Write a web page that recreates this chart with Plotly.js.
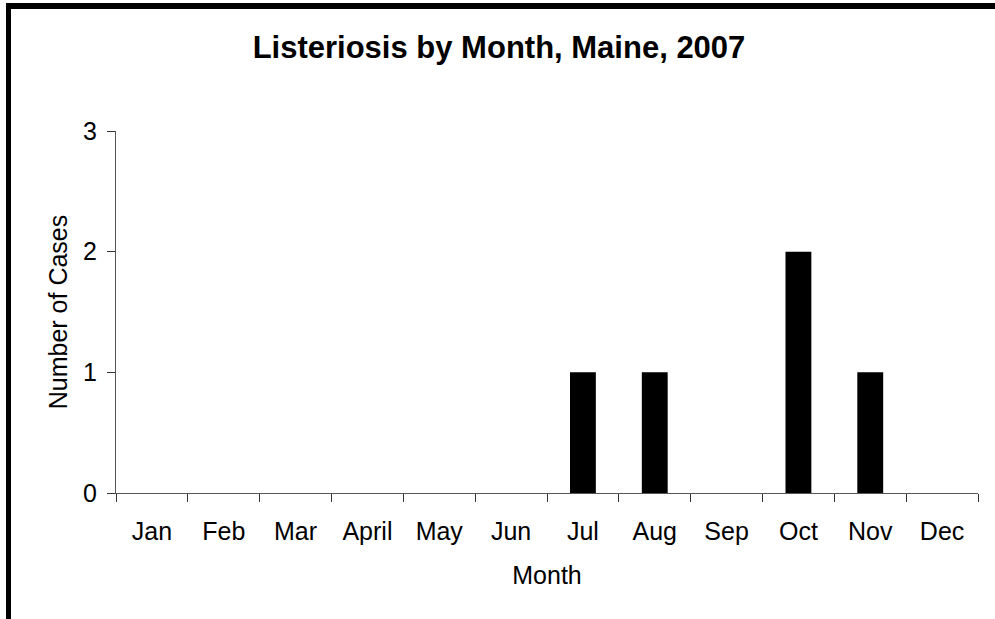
<!DOCTYPE html>
<html>
<head>
<meta charset="utf-8">
<script src="https://cdn.plot.ly/plotly-3.0.1.min.js"></script>
<style>
  html, body { margin: 0; padding: 0; background: #fff; }
  #wrap { position: relative; width: 995px; height: 619px; overflow: hidden; }
  #chart { width: 995px; height: 619px; }
  #frame { position: absolute; left: 6px; top: 3px; width: 1200px; height: 800px;
           border-left: 5px solid #000; border-top: 6px solid #000; pointer-events: none; }
</style>
</head>
<body>
<div id="wrap">
  <div id="chart"></div>
  <div id="frame"></div>
</div>
<script>
const months = ["Jan","Feb","Mar","April","May","Jun","Jul","Aug","Sep","Oct","Nov","Dec"];
const cases  = [0, 0, 0, 0, 0, 0, 1, 1, 0, 2, 1, 0];
const yTicks = [0, 1, 2, 3];
const titleText = "Listeriosis by Month, Maine, 2007";
const xTitle = "Month";
const yTitle = "Number of Cases";

const font = "Liberation Sans, Arial, sans-serif";

Plotly.newPlot("chart", [{
  type: "bar",
  x: months,
  y: cases,
  width: 0.36,
  marker: { color: "#000", line: { color: "#000", width: 0 } },
  hoverinfo: "x+y"
}], {
  width: 995, height: 619,
  margin: { l: 116, r: 17, t: 131, b: 126, pad: 0 },
  paper_bgcolor: "#fff",
  plot_bgcolor: "#fff",
  showlegend: false,
  title: {
    text: "<b>" + titleText + "</b>",
    font: { family: font, size: 31, color: "#000" },
    x: 499/995, xref: "container", xanchor: "center",
    y: 1 - 47/619, yref: "container", yanchor: "middle"
  },
  xaxis: {
    type: "category",
    range: [-0.5, 11.5],
    showgrid: false, zeroline: false,
    showline: true, linecolor: "#555", linewidth: 1,
    ticks: "outside", ticklen: 8, tickcolor: "#333", tickwidth: 1,
    tickson: "boundaries",
    ticklabelstandoff: 16,
    tickfont: { family: font, size: 25, color: "#000" },
    title: { text: xTitle, font: { family: font, size: 25, color: "#000" }, standoff: 22 },
    automargin: false
  },
  yaxis: {
    range: [0, 3],
    tickvals: yTicks,
    ticktext: yTicks.map(String),
    showgrid: false, zeroline: false,
    showline: true, linecolor: "#555", linewidth: 1,
    ticks: "outside", ticklen: 8, tickcolor: "#333", tickwidth: 1,
    ticklabelstandoff: 5,
    tickfont: { family: font, size: 25, color: "#000" },
    title: { text: yTitle, font: { family: font, size: 25, color: "#000" }, standoff: 8 },
    automargin: false
  }
}, { displayModeBar: false, staticPlot: true });
</script>
</body>
</html>
